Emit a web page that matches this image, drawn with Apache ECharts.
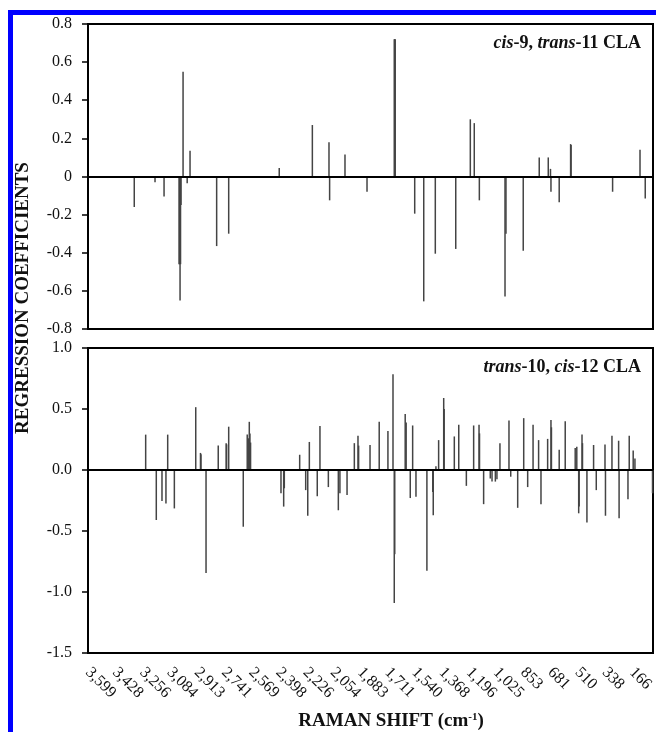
<!DOCTYPE html>
<html>
<head>
<meta charset="utf-8">
<title>Regression coefficients - Raman shift</title>
<script src="https://cdn.jsdelivr.net/npm/echarts@6/dist/echarts.min.js"></script>
<style>
  html, body { margin: 0; padding: 0; background: #fff; }
  #chart { width: 656px; height: 732px; }
</style>
</head>
<body>
<div id="chart"></div>
<script>
// x axis tick labels (Raman shift, cm-1)
var tickLabels = ['3,599', '3,428', '3,256', '3,084', '2,913', '2,741', '2,569', '2,398', '2,226', '2,054',
  '1,883', '1,711', '1,540', '1,368', '1,196', '1,025', '853', '681', '510', '338', '166'];
var xMax = 3599;
var xMin = 33;

// cis-9, trans-11 CLA
var c9Shift = [3307, 3176, 3119, 3024, 3021, 3018, 3015, 3012, 2999, 2973, 2955, 2787, 2711, 2392, 2183,
  2078, 2074, 1977, 1838, 1666, 1663, 1660, 1537, 1480, 1407, 1278, 1186, 1161, 1129, 967, 961, 852,
  751, 694, 680, 677, 625, 553, 550, 288, 115, 82];
var c9Coef = [-0.16, -0.03, -0.105, -0.46, -0.46, -0.65, -0.46, -0.15, 0.55, -0.035, 0.135, -0.365, -0.30, 0.045, 0.27,
  0.18, -0.125, 0.115, -0.08, 0.72, 0.72, 0.72, -0.195, -0.655, -0.405, -0.38, 0.30, 0.28, -0.125, -0.63, -0.30, -0.39,
  0.10, 0.10, 0.04, -0.08, -0.135, 0.17, 0.165, -0.08, 0.14, -0.115];

// trans-10, cis-12 CLA
var t10Shift = [3235, 3168, 3132, 3107, 3096, 3054, 2919, 2889, 2886, 2854, 2777, 2727, 2724, 2711, 2619,
  2594, 2585, 2581, 2577, 2573, 2381, 2364, 2360, 2263, 2225, 2212, 2202, 2152, 2135, 2082, 2019, 2009,
  1964, 1918, 1895, 1891, 1819, 1761, 1706, 1674, 1666, 1663, 1597, 1591, 1565, 1550, 1529, 1460, 1423,
  1420, 1403, 1386, 1354, 1351, 1287, 1259, 1211, 1165, 1131, 1128, 1102, 1060, 1049, 1028, 1018, 999,
  942, 931, 887, 849, 824, 790, 755, 740, 698, 677, 674, 625, 587, 524, 514, 502, 499, 481, 478, 450,
  408, 391, 336, 333, 292, 250, 247, 191, 183, 158, 147, 36, 34];
var t10Coef = [0.29, -0.41, -0.255, -0.275, 0.29, -0.315, 0.515, 0.14, 0.13, -0.845, 0.20, 0.22, 0.21, 0.355, -0.465,
  0.29, 0.26, 0.395, 0.30, 0.225, -0.19, -0.30, -0.15, 0.125, -0.165, -0.375, 0.23, -0.215, 0.36, -0.14, -0.33, -0.19,
  -0.205, 0.22, 0.28, 0.20, 0.205, 0.395, 0.32, 0.785, -1.09, -0.69, 0.46, 0.39, -0.23, 0.365, -0.22, -0.825, -0.18,
  -0.37, 0.03, 0.245, 0.59, 0.50, 0.275, 0.37, -0.13, 0.365, 0.37, 0.30, -0.28, -0.07, -0.095, -0.095, -0.075, 0.22,
  0.405, -0.055, -0.31, 0.425, -0.14, 0.37, 0.245, -0.28, 0.255, 0.41, 0.35, 0.165, 0.40, 0.18, 0.19, -0.355, -0.30, 0.29, 0.22, -0.43,
  0.205, -0.165, 0.21, -0.375, 0.28, 0.24, -0.395, -0.24, 0.28, 0.16, 0.095, -0.19, -0.19];

var tickValues = tickLabels.map(function (s) { return +s.replace(',', ''); });
function pairs(xs, ys) {
  return xs.map(function (x, i) { return [x, ys[i]]; });
}

var serif = '"Liberation Serif", "Times New Roman", serif';
var chart = echarts.init(document.getElementById('chart'));

function xAxisOpt(idx, showLabels) {
  return {
    type: 'value', gridIndex: idx, inverse: true, min: xMin, max: xMax,
    axisLine: { show: false }, axisTick: { show: false }, splitLine: { show: false },
    axisLabel: {
      show: showLabels, customValues: tickValues, rotate: -45, margin: 17,
      fontFamily: serif, fontSize: 16, color: '#111',
      formatter: function (v) { return v.toLocaleString('en-US'); }
    }
  };
}

function yAxisOpt(idx, min, max, interval, fmt) {
  return {
    type: 'value', gridIndex: idx, min: min, max: max, interval: interval,
    axisLine: { show: false },
    axisTick: { show: true, length: 6, lineStyle: { color: '#000', width: 1.5 } },
    splitLine: { show: false },
    axisLabel: { fontFamily: serif, fontSize: 16, color: '#111', margin: 16, formatter: fmt }
  };
}

var zeroLine = {
  silent: true, symbol: 'none', label: { show: false },
  lineStyle: { color: '#000', width: 2, type: 'solid' },
  data: [{ yAxis: 0 }]
};

var option = {
  animation: false,
  backgroundColor: '#fff',
  grid: [
    { left: 88, right: 3, top: 24, height: 305, show: true, borderColor: '#000', borderWidth: 2,
      outerBoundsMode: 'none' },
    { left: 88, right: 3, top: 348, height: 305, show: true, borderColor: '#000', borderWidth: 2,
      outerBoundsMode: 'none' }
  ],
  xAxis: [xAxisOpt(0, false), xAxisOpt(1, true)],
  yAxis: [
    yAxisOpt(0, -0.8, 0.8, 0.2, function (v) { return Math.abs(v) < 1e-9 ? '0' : v.toFixed(1); }),
    yAxisOpt(1, -1.5, 1.0, 0.5, function (v) { return v.toFixed(1); })
  ],
  series: [
    {
      name: 'cis-9, trans-11 CLA', type: 'bar', xAxisIndex: 0, yAxisIndex: 0,
      barWidth: 1.5, itemStyle: { color: '#444' },
      data: pairs(c9Shift, c9Coef), markLine: zeroLine
    },
    {
      name: 'trans-10, cis-12 CLA', type: 'bar', xAxisIndex: 1, yAxisIndex: 1,
      barWidth: 1.5, itemStyle: { color: '#444' },
      data: pairs(t10Shift, t10Coef), markLine: zeroLine
    }
  ],
  graphic: [
    {
      type: 'rect', silent: true,
      shape: { x: 10.5, y: 12.5, width: 1000, height: 1000 },
      style: { fill: 'none', stroke: '#0000ff', lineWidth: 5 }
    },
    {
      type: 'text', x: 641, y: 43,
      style: {
        text: '{i|cis}{b|-9, }{i|trans}{b|-11 CLA}', align: 'right', verticalAlign: 'middle',
        rich: {
          i: { fontFamily: serif, fontSize: 18, fontWeight: 'bold', fontStyle: 'italic', fill: '#111' },
          b: { fontFamily: serif, fontSize: 18, fontWeight: 'bold', fill: '#111' }
        }
      }
    },
    {
      type: 'text', x: 641, y: 367,
      style: {
        text: '{i|trans}{b|-10, }{i|cis}{b|-12 CLA}', align: 'right', verticalAlign: 'middle',
        rich: {
          i: { fontFamily: serif, fontSize: 18, fontWeight: 'bold', fontStyle: 'italic', fill: '#111' },
          b: { fontFamily: serif, fontSize: 18, fontWeight: 'bold', fill: '#111' }
        }
      }
    },
    {
      type: 'text', x: 23, y: 298, rotation: Math.PI / 2,
      style: {
        text: 'REGRESSION COEFFICIENTS', align: 'center', verticalAlign: 'middle',
        fontFamily: serif, fontSize: 19, fontWeight: 'bold', fill: '#111'
      }
    },
    {
      type: 'text', x: 391, y: 721,
      style: {
        text: '{b|RAMAN SHIFT (cm}{s|-1}{b|)}', align: 'center', verticalAlign: 'middle',
        rich: {
          b: { fontFamily: serif, fontSize: 19, fontWeight: 'bold', fill: '#111' },
          s: { fontFamily: serif, fontSize: 11, fontWeight: 'bold', fill: '#111', verticalAlign: 'top' }
        }
      }
    }
  ]
};
chart.setOption(option);
</script>
</body>
</html>
